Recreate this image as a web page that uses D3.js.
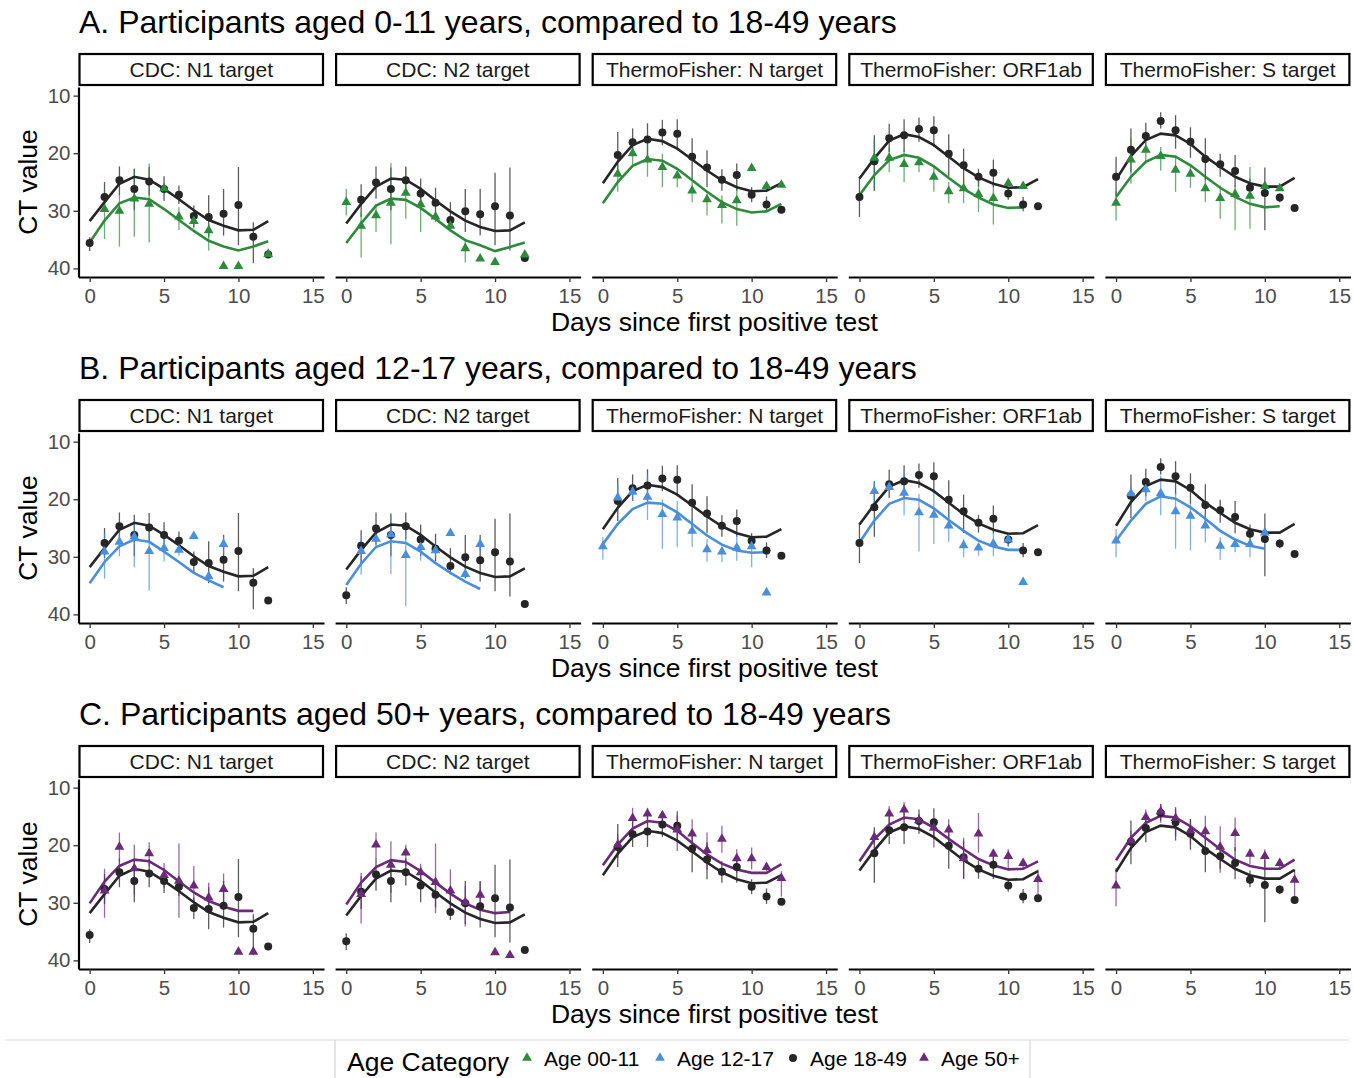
<!DOCTYPE html>
<html>
<head>
<meta charset="utf-8">
<script src="https://cdn.jsdelivr.net/npm/d3@7"></script>
<style>
  body { margin: 0; background: #fff; }
  text { font-family: "Liberation Sans", Arial, sans-serif; }
</style>
</head>
<body>
<div id="chart"></div>
<script>
// ---- data ----
var days = d3.range(0, 13);
var xTicks = [0, 5, 10, 15];
var yTicks = [10, 20, 30, 40];
var assays = ["CDC: N1 target", "CDC: N2 target", "ThermoFisher: N target", "ThermoFisher: ORF1ab", "ThermoFisher: S target"];
var rowTitles = [
  "A. Participants aged 0-11 years, compared to 18-49 years",
  "B. Participants aged 12-17 years, compared to 18-49 years",
  "C. Participants aged 50+ years, compared to 18-49 years"
];
var legendLabels = ["Age 00-11", "Age 12-17", "Age 18-49", "Age 50+"];

// reference group, age 18-49 (same in every row), one array per assay, day 0..12
var refMean = [
  [35.6, 27.6, 24.7, 26.2, 24.9, 26.2, 27.2, 30.9, 31.1, 30.5, 29.0, 34.5, 37.6],
  [36.7, 28.1, 25.1, 26.2, 24.7, 27.0, 28.6, 31.6, 30.1, 30.6, 29.2, 30.8, 38.2],
  [null, 20.3, 18.1, 17.6, 16.4, 16.6, 20.6, 22.5, 24.6, 23.8, 27.2, 28.9, 29.8],
  [27.6, 21.4, 17.4, 16.9, 15.8, 16.0, 20.1, 22.1, 24.1, 23.4, 27.0, 28.9, 29.2],
  [24.1, 19.4, 17.0, 14.4, 16.0, 18.0, 21.0, 21.9, 23.1, 26.0, 26.9, 27.7, 29.5]
];
var refLo = [
  [34.6, 25.0, 22.3, 22.7, 22.4, 24.0, 25.6, 29.1, 27.3, 26.2, 22.4, 32.0, null],
  [35.3, 25.4, 22.3, 22.5, 22.3, 24.4, 26.0, 28.5, 26.2, 26.2, 23.4, 22.5, null],
  [null, 16.3, 15.7, 14.8, 14.2, 14.1, 17.4, 19.5, 22.8, 21.8, 25.9, 27.5, null],
  [24.1, 16.9, 14.9, 14.1, 13.8, 13.6, 16.7, 19.2, 22.7, 21.1, 25.9, 27.6, null],
  [20.6, 15.7, 14.7, 12.9, 13.4, 15.5, 17.4, 20.1, 20.3, 24.4, 22.5, 27.0, null]
];
var refHi = [
  [37.0, 30.2, 27.3, 29.9, 27.3, 28.3, 28.8, 32.8, 34.6, 34.3, 36.0, 39.1, null],
  [38.2, 31.1, 27.9, 29.9, 27.0, 29.9, 30.8, 33.0, 33.7, 34.3, 36.0, 36.9, null],
  [null, 23.8, 20.3, 20.3, 18.6, 19.5, 24.7, 25.9, 26.5, 26.5, 28.5, 30.2, null],
  [31.1, 26.5, 19.8, 19.8, 18.0, 18.9, 24.1, 25.9, 25.8, 25.9, 28.1, 30.1, null],
  [27.3, 23.3, 19.5, 15.7, 19.2, 20.8, 24.7, 24.1, 25.9, 27.3, 33.4, 28.5, null]
];
var refFit = [
  [31.8, 28.5, 25.3, 24.1, 24.6, 26.2, 28.0, 29.9, 31.6, 32.6, 33.4, 33.3, 31.8],
  [32.2, 28.8, 25.8, 24.4, 24.6, 26.2, 28.2, 30.1, 31.7, 32.8, 33.5, 33.4, 32.0],
  [25.2, 21.5, 18.6, 17.5, 17.9, 19.2, 21.1, 23.0, 24.7, 25.9, 26.6, 26.5, 25.2],
  [24.4, 20.9, 17.8, 16.7, 17.2, 18.6, 20.6, 22.6, 24.2, 25.3, 26.0, 25.9, 24.5],
  [24.6, 20.5, 17.7, 16.6, 16.9, 18.4, 20.6, 22.4, 24.1, 25.2, 25.8, 25.8, 24.3]
];
// day-0 reference point shown in row (A, B, C) x assay
var refDay0Shown = [[1, 0, 0, 1, 1], [0, 1, 0, 1, 0], [1, 1, 0, 0, 0]];

// age 00-11
var kidsMean = [
  [null, 29.8, 30.1, 28.0, 28.9, 26.2, 31.1, 31.9, 33.5, 39.7, 39.7, null, 37.6],
  [28.6, 32.7, 30.9, 28.7, 27.0, 29.0, 31.1, 32.7, 36.6, 38.4, 39.0, null, 37.7],
  [null, 23.7, 20.1, 21.2, 22.5, 24.0, 26.6, 28.1, 29.1, 28.3, 22.7, 25.8, 25.6],
  [null, 20.9, 20.9, 22.0, 21.7, 24.2, 26.7, 26.2, 27.2, 27.9, 25.3, 25.8, null],
  [28.7, 21.2, 19.5, 20.6, 23.0, 23.7, 26.2, 27.9, 27.2, 27.5, 25.8, 26.2, null]
];
var kidsLo = [
  [null, 26.5, 27.0, 22.7, 21.8, 25.3, 29.4, 31.1, 32.3, null, null, null, null],
  [26.2, 30.2, 28.9, 21.7, 22.7, 27.0, 30.2, 31.7, 35.2, null, null, null, null],
  [null, 21.8, 18.9, 18.6, 20.1, 23.3, 25.0, 27.0, 27.3, 25.6, null, null, null],
  [null, 17.6, 18.9, 19.4, 20.9, 22.1, 25.0, 24.2, 24.7, 25.3, null, null, null],
  [26.5, 17.4, 18.6, 18.9, 20.3, 22.1, 24.2, 25.6, 25.6, 22.4, null, null, null]
];
var kidsHi = [
  [null, 34.9, 36.2, 34.5, 35.5, 27.0, 33.4, 33.1, 36.9, null, null, null, null],
  [30.8, 38.1, 33.7, 35.8, 31.4, 33.7, 32.0, 33.7, 39.0, null, null, null, null],
  [null, 26.7, 22.1, 24.1, 25.9, 25.9, 28.5, 30.8, 32.2, 32.6, null, null, null],
  [null, 26.5, 23.3, 25.0, 23.3, 26.7, 28.7, 28.7, 30.2, 32.4, null, null, null],
  [31.7, 25.3, 21.8, 23.0, 26.7, 26.0, 28.5, 31.4, 33.4, 33.1, null, null, null]
];
var kidsFit = [
  [35.5, 31.7, 28.7, 27.7, 28.0, 29.7, 31.6, 33.5, 35.2, 36.2, 36.9, 36.2, 35.3],
  [35.6, 32.2, 29.1, 27.9, 28.1, 29.5, 31.4, 33.4, 35.1, 36.0, 37.0, 36.3, 35.5],
  [28.7, 25.0, 22.2, 21.0, 21.3, 22.7, 24.7, 26.7, 28.5, 29.7, 30.3, 30.1, 28.8],
  [27.3, 23.8, 21.2, 20.3, 20.8, 22.3, 24.3, 26.2, 27.7, 28.9, 29.5, 29.4, null],
  [27.6, 24.1, 21.5, 20.3, 20.6, 22.1, 24.1, 26.0, 27.6, 28.8, 29.4, 29.2, null]
];

// age 12-17
var teenMean = [
  [null, 29.2, 27.5, 26.6, 29.1, 28.6, 28.9, 26.5, 33.5, 27.9, null, null, null],
  [null, 29.1, 27.0, 26.2, 29.8, 28.4, 29.0, 26.0, 33.1, 27.9, null, null, null],
  [28.3, 19.8, 18.8, 19.7, 22.7, 23.3, 25.6, 28.8, 29.2, 28.5, 28.3, 36.3, null],
  [null, 18.7, 18.0, 19.0, 22.4, 22.8, 24.7, 28.1, 28.5, 27.8, 27.1, 34.5, null],
  [27.3, 19.1, 18.4, 19.1, 22.2, 23.0, 24.7, 28.2, 27.9, 27.9, 25.9, null, null]
];
var teenLo = [
  [null, 26.0, 25.2, 23.7, 24.0, 26.9, 28.1, null, 32.7, 26.5, null, null, null],
  [null, 26.9, 25.2, 22.9, 25.6, 27.2, 27.8, null, 32.4, 26.9, null, null, null],
  [26.6, 17.4, 18.0, 15.7, 20.0, 20.3, 23.4, 26.9, 28.4, 26.3, 26.9, null, null],
  [null, 16.8, 16.5, 15.4, 19.1, 18.8, 22.3, 26.9, 27.8, 25.8, 25.8, null, null],
  [25.2, 17.7, 17.7, 15.9, 18.8, 20.6, 22.6, 26.6, 27.2, 26.6, null, null, null]
];
var teenHi = [
  [null, 33.8, 29.9, 31.8, 35.9, 30.8, 29.8, null, 34.4, 29.5, null, null, null],
  [null, 33.1, 28.6, 33.0, 38.6, 30.7, 30.1, null, 33.8, 28.9, null, null, null],
  [30.5, 22.2, 20.3, 23.6, 28.6, 28.3, 28.3, 30.8, 30.9, 30.7, 31.8, null, null],
  [null, 21.1, 18.8, 22.8, 29.1, 27.8, 27.4, 30.1, 29.8, 29.9, 28.3, null, null],
  [30.1, 21.1, 20.3, 22.8, 28.6, 28.9, 27.5, 30.5, 29.2, 30.1, null, null, null]
];
var teenFit = [
  [34.6, 30.9, 28.2, 27.0, 27.4, 29.1, 30.9, 32.8, 34.1, 35.3, null, null, null],
  [34.9, 31.2, 28.3, 27.3, 27.6, 29.1, 31.1, 32.8, 34.3, 35.6, null, null, null],
  [27.8, 24.3, 21.7, 20.6, 20.8, 22.3, 24.3, 26.3, 27.9, 28.9, 29.3, 29.2, null],
  [27.5, 23.7, 20.8, 19.8, 20.1, 21.6, 23.6, 25.5, 27.2, 28.2, 28.8, 28.8, null],
  [27.2, 23.7, 20.8, 19.5, 19.9, 21.4, 23.4, 25.5, 27.0, 28.1, 28.6, null, null]
];

// age 50+
var olderMean = [
  [null, 28.0, 20.4, 24.1, 21.5, 25.3, 26.3, 27.1, 29.2, 27.7, 38.6, 38.6, null],
  [null, 28.6, 20.0, 23.5, 21.4, 24.8, 26.5, 28.0, 30.0, 28.7, 38.7, 39.2, null],
  [null, 20.0, 15.4, 14.6, 14.9, 17.4, 18.1, 21.0, 19.0, 22.4, 22.4, 23.9, 25.8],
  [null, 18.7, 14.6, 13.9, 15.8, 17.1, 17.4, 22.4, 18.1, 21.6, 22.0, 23.2, 26.0],
  [27.1, 19.3, 15.2, 14.2, 15.4, 17.5, 17.7, 20.4, 18.0, 21.6, 22.0, 23.2, 26.1]
];
var olderLo = [
  [null, 24.1, 17.8, 19.9, 19.5, 23.1, 19.7, 23.6, 26.5, 24.9, null, null, null],
  [null, 24.8, 17.8, 19.3, 19.9, 23.2, 19.7, 24.2, 27.1, 26.3, null, null, null],
  [null, 18.1, 13.5, 13.5, 14.2, 14.9, 15.5, 17.8, 16.6, 20.7, 20.4, 23.3, 24.5],
  [null, 17.5, 13.2, 12.5, 14.6, 15.5, 15.5, 18.7, 14.4, 20.7, 20.7, 22.8, 24.2],
  [23.9, 17.5, 13.8, 12.9, 13.7, 15.5, 14.9, 16.7, 15.2, 20.7, 20.7, 22.4, 24.2]
];
var olderHi = [
  [null, 32.6, 22.8, 28.6, 23.6, 27.4, 32.6, 30.0, 31.8, 30.6, null, null, null],
  [null, 33.6, 22.4, 28.3, 23.6, 26.8, 31.8, 31.2, 34.1, 30.6, null, null, null],
  [null, 22.2, 17.5, 16.4, 17.0, 21.0, 20.7, 24.2, 21.3, 24.8, 24.2, 24.5, 28.9],
  [null, 19.9, 16.4, 15.6, 17.3, 20.4, 19.9, 25.7, 21.3, 23.3, 24.2, 24.2, 29.2],
  [30.6, 21.0, 17.0, 16.1, 18.4, 19.9, 19.9, 24.8, 21.0, 23.3, 24.2, 24.2, 28.9]
];
var olderFit = [
  [30.1, 26.3, 23.6, 22.5, 22.8, 24.3, 26.3, 28.2, 29.7, 30.7, 31.4, 31.4, null],
  [30.3, 26.5, 23.8, 22.6, 22.9, 24.5, 26.5, 28.4, 30.1, 31.2, 31.8, 31.6, null],
  [23.5, 19.9, 17.1, 15.8, 16.1, 17.5, 19.6, 21.6, 23.2, 24.2, 24.8, 24.8, 23.3],
  [22.8, 19.0, 16.4, 15.2, 15.5, 17.0, 18.9, 20.7, 22.4, 23.5, 24.2, 24.1, 22.8],
  [22.6, 18.7, 16.1, 14.9, 15.2, 16.7, 18.7, 20.7, 22.5, 23.6, 24.1, 24.1, 22.5]
];

var rowMean = [kidsMean, teenMean, olderMean];
var rowLo = [kidsLo, teenLo, olderLo];
var rowHi = [kidsHi, teenHi, olderHi];
var rowFit = [kidsFit, teenFit, olderFit];

// ---- style / layout ----
var colGreen = "#2f8a3e", colBlue = "#4a8fdb", colBlack = "#262626", colPurple = "#6a2b78";
var rowColor = [colGreen, colBlue, colPurple];
var legendColors = [colGreen, colBlue, colBlack, colPurple];

var W = 1354, H = 1078;
var rowTops = [87, 433, 779];
var plotH = 190;
var panelLeft0 = 78.5, panelStep = 256.6, panelW = 245.5;
var font = "Liberation Sans, Arial, sans-serif";

var svg = d3.select("#chart").append("svg")
  .attr("width", W).attr("height", H)
  .style("background-color", "#fff");

var tri = d3.symbol().type(d3.symbolTriangle).size(42);

function present(arr) {
  return days.filter(function(d) { return arr[d] != null; });
}

rowTitles.forEach(function(title, r) {
  var top = rowTops[r];
  var col = rowColor[r];

  svg.append("text")
    .attr("x", 79).attr("y", top - 54)
    .attr("font-size", 32).attr("fill", "#000")
    .text(title);

  assays.forEach(function(assay, a) {
    var left = panelLeft0 + a * panelStep;
    var x = d3.scaleLinear().domain([-0.75, 15.75]).range([left, left + panelW]);
    var y = d3.scaleLinear().domain([8.5, 41.5]).range([top, top + plotH]);
    var g = svg.append("g");

    // strip
    g.append("rect")
      .attr("x", left + 1).attr("y", top - 33)
      .attr("width", panelW - 2).attr("height", 31)
      .attr("fill", "#fff").attr("stroke", "#000").attr("stroke-width", 2.2);
    g.append("text")
      .attr("x", left + panelW / 2).attr("y", top - 10.5)
      .attr("text-anchor", "middle").attr("font-size", 21).attr("fill", "#1a1a1a")
      .text(assay);

    // x axis
    var gx = g.append("g")
      .attr("transform", "translate(0," + (top + plotH) + ")")
      .call(d3.axisBottom(x).tickValues(xTicks).tickSizeInner(5).tickSizeOuter(0).tickPadding(6));
    gx.select(".domain").attr("stroke", "#000").attr("stroke-width", 2.2);
    gx.selectAll(".tick line").attr("stroke", "#333").attr("stroke-width", 1.3);
    gx.selectAll(".tick text").attr("font-size", 20.5).attr("fill", "#4d4d4d")
      .style("font-family", font);

    if (a === 0) {
      var gy = g.append("g")
        .attr("transform", "translate(" + left + ",0)")
        .call(d3.axisLeft(y).tickValues(yTicks).tickSizeInner(5).tickSizeOuter(0).tickPadding(3));
      gy.select(".domain").attr("stroke", "#000").attr("stroke-width", 2.2);
      gy.selectAll(".tick line").attr("stroke", "#333").attr("stroke-width", 1.3);
      gy.selectAll(".tick text").attr("font-size", 20.5).attr("fill", "#4d4d4d")
        .style("font-family", font);
    }

    var rMean = refMean[a], rLo = refLo[a], rHi = refHi[a], rFit = refFit[a];
    var gMean = rowMean[r][a], gLo = rowLo[r][a], gHi = rowHi[r][a], gFit = rowFit[r][a];
    var refDays = present(rMean).filter(function(d) { return d > 0 || refDay0Shown[r][a]; });
    var grpDays = present(gMean);

    // error bars
    g.append("g").selectAll("line")
      .data(refDays.filter(function(d) { return rLo[d] != null; }))
      .enter().append("line")
      .attr("x1", function(d) { return x(d); }).attr("x2", function(d) { return x(d); })
      .attr("y1", function(d) { return y(rLo[d]); }).attr("y2", function(d) { return y(rHi[d]); })
      .attr("stroke", colBlack).attr("stroke-opacity", 0.75).attr("stroke-width", 1.3);
    g.append("g").selectAll("line")
      .data(grpDays.filter(function(d) { return gLo[d] != null; }))
      .enter().append("line")
      .attr("x1", function(d) { return x(d); }).attr("x2", function(d) { return x(d); })
      .attr("y1", function(d) { return y(gLo[d]); }).attr("y2", function(d) { return y(gHi[d]); })
      .attr("stroke", col).attr("stroke-opacity", 0.7).attr("stroke-width", 1.3);

    // fitted lines
    var line = function(arr) {
      return d3.line()
        .defined(function(d) { return arr[d] != null; })
        .x(function(d) { return x(d); })
        .y(function(d) { return y(arr[d]); })(days);
    };
    g.append("path").attr("d", line(rFit))
      .attr("fill", "none").attr("stroke", colBlack).attr("stroke-width", 2.6);
    g.append("path").attr("d", line(gFit))
      .attr("fill", "none").attr("stroke", col).attr("stroke-width", 2.6);

    // points
    g.append("g").selectAll("circle")
      .data(refDays).enter().append("circle")
      .attr("cx", function(d) { return x(d); })
      .attr("cy", function(d) { return y(rMean[d]); })
      .attr("r", 4).attr("fill", colBlack);
    g.append("g").selectAll("path")
      .data(grpDays).enter().append("path")
      .attr("d", tri)
      .attr("transform", function(d) { return "translate(" + x(d) + "," + (y(gMean[d]) - 0.5) + ")"; })
      .attr("fill", col);
  });

  // axis titles
  svg.append("text")
    .attr("x", panelLeft0 + (4 * panelStep + panelW) / 2).attr("y", top + plotH + 54)
    .attr("text-anchor", "middle").attr("font-size", 26.5).attr("fill", "#000")
    .text("Days since first positive test");
  svg.append("text")
    .attr("transform", "translate(37," + (top + plotH / 2) + ") rotate(-90)")
    .attr("text-anchor", "middle").attr("font-size", 26.5).attr("fill", "#000")
    .text("CT value");
});

// ---- legend ----
var lg = svg.append("g");
lg.append("line").attr("x1", 5).attr("x2", 1349).attr("y1", 1040).attr("y2", 1040)
  .attr("stroke", "#ddd").attr("stroke-width", 1);
lg.append("line").attr("x1", 335).attr("x2", 335).attr("y1", 1040).attr("y2", 1078)
  .attr("stroke", "#ccc").attr("stroke-width", 1);
lg.append("line").attr("x1", 1030).attr("x2", 1030).attr("y1", 1040).attr("y2", 1078)
  .attr("stroke", "#ccc").attr("stroke-width", 1);
lg.append("text").attr("x", 347).attr("y", 1071)
  .attr("font-size", 26.5).attr("fill", "#000").text("Age Category");

var keyX = [527, 660, 793, 924];
legendLabels.forEach(function(lab, i) {
  if (i === 2) {
    lg.append("circle").attr("cx", keyX[i]).attr("cy", 1058).attr("r", 4).attr("fill", legendColors[i]);
  } else {
    lg.append("path").attr("d", tri)
      .attr("transform", "translate(" + keyX[i] + ",1058)").attr("fill", legendColors[i]);
  }
  lg.append("text").attr("x", keyX[i] + 17).attr("y", 1066)
    .attr("font-size", 21).attr("fill", "#000").text(lab);
});
</script>
</body>
</html>
